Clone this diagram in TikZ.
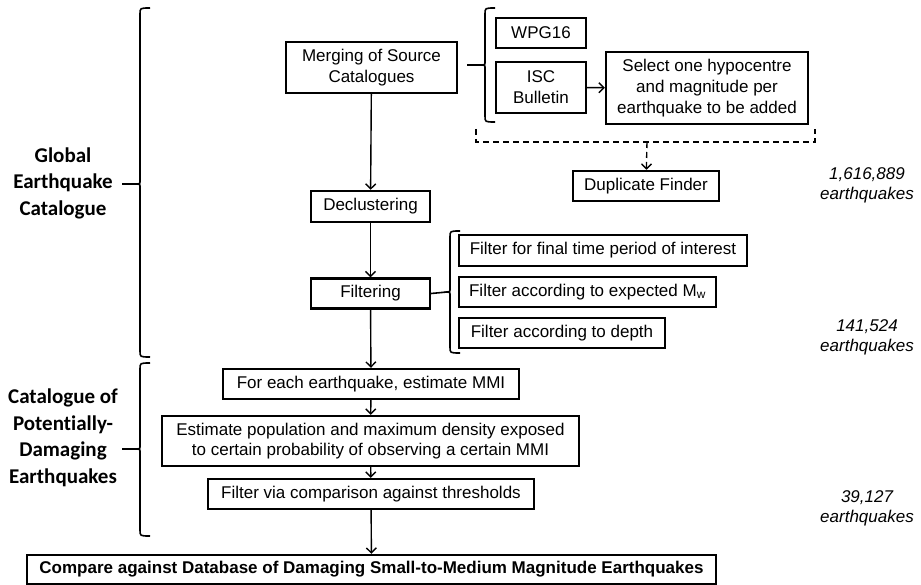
\documentclass[tikz,border=0pt]{standalone}
\usepackage{fontspec}
\setmainfont{Liberation Sans}
\newfontfamily\lblfont[Ligatures=NoCommon]{Carlito}
\usetikzlibrary{arrows.meta}
\tikzset{
  box/.style={draw, line width=2.3pt, inner sep=0pt, align=center, font=\fontsize{17}{20.7}\selectfont},
  conn/.style={line width=1.4pt, -{Straight Barb[length=5pt,width=10pt,line width=1.4pt]}},
  dconn/.style={conn, dash pattern=on 6pt off 4pt},
  bracestyle/.style={line width=1.6pt},
  tick/.style={line width=1.6pt},
  lbl/.style={align=center, font=\lblfont\bfseries\fontsize{21}{26.5}\selectfont},
  cnt/.style={align=center, font=\itshape\fontsize{17}{20}\selectfont},
}
\newcommand{\mybrace}[4]{%
  \draw[bracestyle] (#1+10,#2) .. controls (#1,#2) .. (#1,#2+6) -- (#1,#3-4) .. controls (#1,#3) .. (#1-3,#3) .. controls (#1,#3) .. (#1,#3+4) -- (#1,#4-6) .. controls (#1,#4) .. (#1+10,#4);}
\begin{document}
\begin{tikzpicture}[x=1pt,y=-1pt]
\useasboundingbox (0,0) rectangle (921,585);
% main column
\node[box, minimum width=171pt, minimum height=51pt] (merge) at (371.5,67.5) {Merging of Source\\Catalogues};
\node[box, minimum width=119pt, minimum height=31pt] (decl) at (370.5,206.5) {Declustering};
\node[box, minimum width=119pt, minimum height=30pt] (filt) at (370.5,293.5) {Filtering};
\node[box, minimum width=296pt, minimum height=30pt] (each) at (371,384) {For each earthquake, estimate MMI};
\node[box, minimum width=417pt, minimum height=50pt] (est) at (370.5,441) {Estimate population and maximum density exposed\\to certain probability of observing a certain MMI};
\node[box, minimum width=326pt, minimum height=30pt] (fvia) at (371,494) {Filter via comparison against thresholds};
\node[box, minimum width=689pt, minimum height=29pt, font=\bfseries\fontsize{17}{20}\selectfont] (comp) at (371.5,569.5) {Compare against Database of Damaging Small-to-Medium Magnitude Earthquakes};
% source catalogues
\node[box, minimum width=90pt, minimum height=30pt] (wpg) at (541,33) {WPG16};
\node[box, minimum width=90pt, minimum height=51pt] (isc) at (541,87.5) {ISC\\Bulletin};
\node[box, minimum width=202pt, minimum height=72pt] (sel) at (707,88) {Select one hypocentre\\and magnitude per\\earthquake to be added};
\node[box, minimum width=146pt, minimum height=30pt] (dup) at (646,186) {Duplicate Finder};
% filters
\node[box, minimum width=288pt, minimum height=31pt] (f1) at (603,250.5) {Filter for final time period of interest};
\node[box, minimum width=257pt, minimum height=30pt] (f2) at (587.5,292) {Filter according to expected M\textsubscript{w}};
\node[box, minimum width=206pt, minimum height=30pt] (f3) at (562,333) {Filter according to depth};
% labels
\node[lbl] (lglobal) at (63,183) {Global\\Earthquake\\Catalogue};
\node[lbl] (lpot) at (63,438) {Catalogue of\\Potentially-\\Damaging\\Earthquakes};
\node[cnt] (n1) at (867,185) {1,616,889\\earthquakes};
\node[cnt] (n2) at (867,337) {141,524\\earthquakes};
\node[cnt] (n3) at (867,508) {39,127\\earthquakes};
% connectors
\draw[conn] (merge) -- (decl);
\draw[conn] (decl) -- (filt);
\draw[conn] (filt) -- (each);
\draw[conn] (each) -- (est);
\draw[conn] (est) -- (fvia);
\draw[conn] (fvia) -- (comp);
\draw[conn] (isc) -- (sel);
% braces
\mybrace{140}{8}{184}{357}
\mybrace{140}{363}{449}{536}
\mybrace{485}{8}{65}{122}
\mybrace{450}{231}{292}{353}
\coordinate (t1) at (122,184);
\coordinate (t1e) at (137,184);
\coordinate (t2) at (122,449);
\coordinate (t2e) at (137,449);
\coordinate (t3) at (467,65);
\coordinate (t3e) at (482,65);
\coordinate (t4e) at (447,292);
\draw[tick] (t1) -- (t1e);
\draw[tick] (t2) -- (t2e);
\draw[tick] (t3) -- (t3e);
\draw[tick] (filt.east) -- (t4e);
% dashed bracket
\coordinate (dl) at (476,129);
\coordinate (dr) at (815,129);
\coordinate (dm) at (647,142);
\draw[line width=1.4pt, dash pattern=on 6pt off 4pt] (dl) -- (476,142) -- (815,142) -- (dr);
\draw[dconn] (dm) -- (dup);
\end{tikzpicture}
\end{document}
